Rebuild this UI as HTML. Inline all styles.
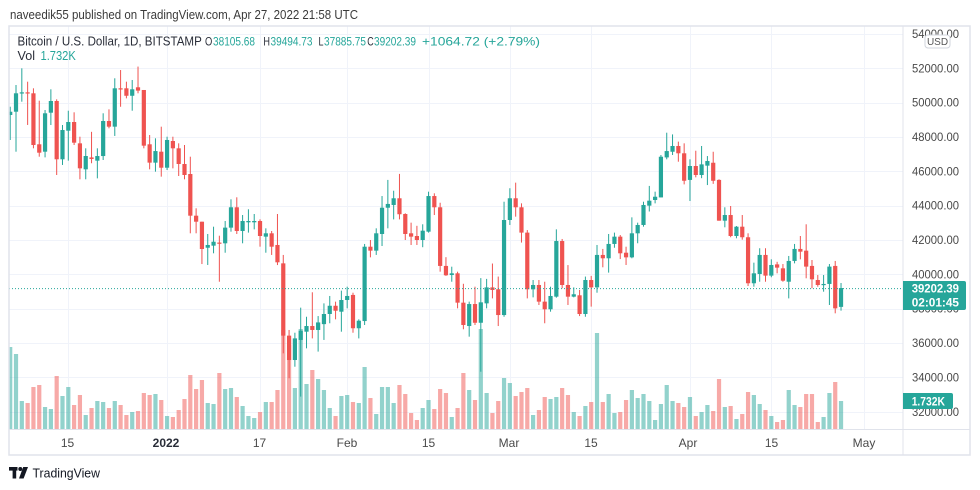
<!DOCTYPE html>
<html><head><meta charset="utf-8">
<style>
html,body{margin:0;padding:0;background:#fff;width:980px;height:490px;overflow:hidden;}
svg{display:block;font-family:"Liberation Sans",Arial,sans-serif;}
</style></head><body>
<svg id="c" width="980" height="490" viewBox="0 0 980 490" xmlns="http://www.w3.org/2000/svg">
<defs><clipPath id="plot"><rect x="9" y="26" width="894" height="403"/></clipPath></defs>
<rect width="980" height="490" fill="#fff"/>
<text x="10" y="19" font-size="13" fill="#3a3a3a" textLength="348" lengthAdjust="spacingAndGlyphs">naveedik55 published on TradingView.com, Apr 27, 2022 21:58 UTC</text>

<g id="grid" stroke="#f0f3fa" stroke-width="1" shape-rendering="crispEdges"></g>
<g clip-path="url(#plot)">
  <g id="vol"></g>
  <g id="cnd"></g>
</g>
<line x1="9" y1="288.6" x2="903" y2="288.6" stroke="#26a69a" stroke-width="1" stroke-dasharray="1,2"/>

<!-- legend -->
<g font-size="12.5">
<text x="17.5" y="45.7" fill="#2a2e39" textLength="184.3" lengthAdjust="spacingAndGlyphs">Bitcoin / U.S. Dollar, 1D, BITSTAMP</text>
</g>
<g font-size="12">
<text x="205" y="45.7" fill="#2a2e39" textLength="7.3" lengthAdjust="spacingAndGlyphs">O</text>
<text x="213" y="45.7" fill="#26a69a" textLength="42" lengthAdjust="spacingAndGlyphs">38105.68</text>
<text x="263.4" y="45.7" fill="#2a2e39" textLength="6.6" lengthAdjust="spacingAndGlyphs">H</text>
<text x="270.5" y="45.7" fill="#26a69a" textLength="42" lengthAdjust="spacingAndGlyphs">39494.73</text>
<text x="318.5" y="45.7" fill="#2a2e39" textLength="5" lengthAdjust="spacingAndGlyphs">L</text>
<text x="324" y="45.7" fill="#26a69a" textLength="42" lengthAdjust="spacingAndGlyphs">37885.75</text>
<text x="367.3" y="45.7" fill="#2a2e39" textLength="6.4" lengthAdjust="spacingAndGlyphs">C</text>
<text x="374" y="45.7" fill="#26a69a" textLength="42" lengthAdjust="spacingAndGlyphs">39202.39</text>
<text x="422" y="45.7" fill="#26a69a" textLength="118" lengthAdjust="spacingAndGlyphs">+1064.72 (+2.79%)</text>
</g>
<g font-size="12.5">
<text x="17.5" y="60.2" fill="#2a2e39" textLength="17.5" lengthAdjust="spacingAndGlyphs">Vol</text>
<text x="40.5" y="60.2" fill="#26a69a" textLength="35.3" lengthAdjust="spacingAndGlyphs">1.732K</text>
</g>

<!-- axes panel -->
<rect x="903.5" y="26" width="66" height="403" fill="#fff"/>
<line x1="903" y1="26" x2="903" y2="455" stroke="#e0e3eb" stroke-width="1" shape-rendering="crispEdges"/>
<line x1="9" y1="429.5" x2="970" y2="429.5" stroke="#e0e3eb" stroke-width="1" shape-rendering="crispEdges"/>

<g font-size="12" fill="#4a4a4a">
<text x="912" y="38" textLength="47" lengthAdjust="spacingAndGlyphs">54000.00</text>
<text x="912" y="72.3" textLength="47" lengthAdjust="spacingAndGlyphs">52000.00</text>
<text x="912" y="106.6" textLength="47" lengthAdjust="spacingAndGlyphs">50000.00</text>
<text x="912" y="141" textLength="47" lengthAdjust="spacingAndGlyphs">48000.00</text>
<text x="912" y="175.4" textLength="47" lengthAdjust="spacingAndGlyphs">46000.00</text>
<text x="912" y="209.7" textLength="47" lengthAdjust="spacingAndGlyphs">44000.00</text>
<text x="912" y="244" textLength="47" lengthAdjust="spacingAndGlyphs">42000.00</text>
<text x="912" y="278.4" textLength="47" lengthAdjust="spacingAndGlyphs">40000.00</text>
<text x="912" y="312.7" textLength="47" lengthAdjust="spacingAndGlyphs">38000.00</text>
<text x="912" y="347.1" textLength="47" lengthAdjust="spacingAndGlyphs">36000.00</text>
<text x="912" y="381.4" textLength="47" lengthAdjust="spacingAndGlyphs">34000.00</text>
<text x="912" y="415.8" textLength="47" lengthAdjust="spacingAndGlyphs">32000.00</text>
</g>

<!-- USD box -->
<rect x="925" y="35" width="25" height="13" rx="3" fill="#fff" stroke="#d1d4dc" stroke-width="1"/>
<text x="937.5" y="45" font-size="10" fill="#555" text-anchor="middle">USD</text>

<!-- price tag -->
<path d="M903 281 H964 Q966 281 966 283 V308 Q966 310 964 310 H903 Z" fill="#26a69a"/>
<text x="911.7" y="292.3" font-size="12" font-weight="bold" fill="#fff" textLength="47.3" lengthAdjust="spacingAndGlyphs">39202.39</text>
<text x="911.7" y="306.5" font-size="12" font-weight="bold" fill="#fff" textLength="47.3" lengthAdjust="spacingAndGlyphs">02:01:45</text>
<!-- volume tag -->
<path d="M903 393 H951 Q953 393 953 395 V407 Q953 409 951 409 H903 Z" fill="#26a69a"/>
<text x="911.7" y="405.3" font-size="12" font-weight="bold" fill="#fff" textLength="33.3" lengthAdjust="spacingAndGlyphs">1.732K</text>

<!-- time axis -->
<g font-size="12" fill="#4a4a4a" text-anchor="middle">
<text x="67.5" y="447">15</text>
<text x="166" y="447" font-weight="bold" fill="#2a2e39">2022</text>
<text x="259.5" y="447">17</text>
<text x="347" y="447">Feb</text>
<text x="428.5" y="447">15</text>
<text x="509" y="447">Mar</text>
<text x="591" y="447">15</text>
<text x="688" y="447">Apr</text>
<text x="771.5" y="447">15</text>
<text x="864" y="447">May</text>
</g>

<!-- frame -->
<rect x="9" y="26" width="961" height="429" fill="none" stroke="#e0e3eb" stroke-width="1.5"/>

<!-- footer -->
<g fill="#131722">
<rect x="9" y="467" width="8.5" height="3.6"/>
<rect x="12.6" y="467" width="3.6" height="11.5"/>
<circle cx="20.3" cy="469" r="2"/>
<polygon points="23.2,467 28,467 23.6,478.5 19,478.5"/>
</g>
<text x="32.5" y="477.5" font-size="12.5" fill="#131722" textLength="67.5" lengthAdjust="spacingAndGlyphs">TradingView</text>

<script>
(function(){
var D=[
[49280,49764,47824,49470],[49472,51027,47143,50544],[50540,52000,50055,50600],[50600,51220,48700,50540],[50544,50835,47340,47533],[47574,50113,46852,47085],[47143,49571,46813,49379],[49414,50777,48697,50096],[50096,50194,45786,46700],[46700,48697,46370,48406],[48366,49530,46620,48872],[48872,49437,47533,47668],[47630,48016,45535,46174],[46116,47340,45535,46892],[46810,48300,46470,46720],[46620,47340,45590,46890],[46890,49380,46660,48930],[48930,49610,48505,48600],[48600,51418,48060,50835],[50835,51900,49760,50800],[50835,51220,50250,50400],[50400,51320,49530,50777],[50894,52100,50544,50700],[50737,50737,47340,47494],[47574,48115,46116,46505],[46505,47923,45980,47180],[47143,48600,45690,46210],
[46210,48016,46077,47825],[47766,48016,46174,47340],[47340,47630,45727,46426],[46426,47533,45535,45786],[45844,46852,42390,43416],[43416,43846,42390,43066],[43066,43066,40600,41476],[41550,42350,40545,41710],[41670,42775,41225,41900],[41850,42250,39570,41800],[41808,43106,41260,42720],[42720,44370,42485,43905],[43905,44487,42350,42525],[42525,43455,41808,43106],[43030,43790,42430,43106],[43030,43514,42620,43106],[43106,43203,41610,42233],[42195,42680,41260,42390],[42390,42525,41130,41610],[41710,43514,40540,40700],[40640,41130,35400,36430],[36430,36760,33950,35010],[35010,36600,34620,36270],[36180,38060,32880,36715],[36660,37530,35690,36990],[36990,38955,36270,36760],[36760,37570,35500,37200],[37100,38310,36180,37690],[37690,38740,37150,38170],[38170,38410,37380,37880],[37825,39050,36660,38505],
[38505,39280,38020,38740],[38800,38930,36600,36860],[36860,37380,36270,37300],[37280,41770,37050,41610],[41610,42000,40990,41380],[41380,42680,41130,42390],[42350,44560,41650,43880],[43880,45500,42680,44100],[44040,44870,43200,44430],[44430,45850,43200,43500],[43514,43555,42000,42350],[42390,43010,41710,42195],[42233,42826,41710,42000],[42000,42915,41580,42543],[42485,44815,42430,44560],[44560,44720,43455,43905],[43905,44170,40155,40490],[40490,41000,39910,39945],[39960,40445,39570,40060],[40060,40155,38020,38350],[38350,39450,36800,37050],[36990,38410,36370,38270],[38270,39280,37050,37180],[37180,39780,34330,38370],[38310,39735,38020,39240],[39240,40630,38600,39090],[39130,39870,36990,37630],[37630,44230,37530,43165],
[43165,45015,42875,44430],[44430,45340,43360,43905],[43905,44135,41850,42430],[42430,42580,38600,39130],[39130,39670,38660,39380],[39380,39670,38215,38410],[38410,39570,37150,37965],[37965,39280,37825,38740],[38700,42620,38640,41940],[41940,42060,39190,39380],[39380,40540,38215,38700],[38700,39240,38660,38840],[38780,39090,37570,37690],[37690,39870,37530,39670],[39670,39910,38120,39240],[39240,41710,38930,41130],[41130,41480,40410,40935],[40935,42350,40100,41770],[41770,42430,41550,42195],[42195,42290,40890,41225],[41260,41610,40545,40990],[40990,43320,40935,42390],[42390,43010,41810,42875],[42875,44230,42775,44040],[44000,45150,43660,44290],[44330,44815,44135,44520],[44480,46950,44480,46850],[46810,48250,46700,47180],[47140,48150,46950,47475],[47475,47730,46560,47050],[47050,47630,45240,45450],
[45500,46700,44270,46310],[46310,47200,45650,45786],[45786,47475,45600,46405],[46330,46890,45200,46600],[46500,47140,45270,45450],[45500,45535,43125,43125],[43125,43905,42740,43455],[43455,43980,42160,42233],[42233,42815,42100,42775],[42775,43455,42020,42160],[42160,42390,39320,39480],[39480,40680,39280,40060],[40020,41520,39570,41130],[41130,41520,39570,39925],[39925,40875,39830,40545],[40580,40730,40060,40390],[40350,40600,39570,39630],[39570,41070,38600,40780],[40780,41770,40640,41480],[41480,42233,40875,41320],[41380,42915,39770,40450],[40490,40835,39190,39710],[39670,39960,39280,39380],[39380,39960,38990,39440],[39440,40600,38215,40450],[40490,40780,37730,38020],[38105,39495,37886,39202]
];
var V=[82,75,28,26,42,44,22,20,53,33,42,24,34,14,21,28,27,21,28,24,14,17,18,36,34,35,29,
13,12,19,30,54,40,49,26,25,56,40,41,32,23,13,11,17,27,27,39,99,84,41,100,45,59,50,39,21,13,33,
34,27,26,62,31,15,42,42,26,44,35,16,9,21,29,20,40,36,12,21,56,39,29,100,36,16,28,51,
46,33,37,41,14,19,32,30,32,41,34,17,13,23,27,96,27,35,16,17,29,39,31,35,28,9,25,44,28,26,22,
32,13,17,24,18,50,22,23,10,15,37,34,25,19,13,7,9,39,24,22,35,35,7,12,36,47,28];
var ns="http://www.w3.org/2000/svg";
function py(p){return 68.3+(52000-p)*0.01717;}
function el(t,a,parent){var e=document.createElementNS(ns,t);for(var k in a)e.setAttribute(k,a[k]);parent.appendChild(e);return e;}
var grid=document.getElementById('grid');
for(var p=54000;p>=32000;p-=2000){var y=Math.round(py(p))+0.5;el('line',{x1:9,y1:y,x2:903,y2:y},grid);}
[68.3,167.1,260.1,347.2,428.5,509.9,591.2,690,771.4,864.4].forEach(function(x){x=Math.round(x)+0.5;el('line',{x1:x,y1:26,x2:x,y2:429},grid);});
var vg=document.getElementById('vol'),cg=document.getElementById('cnd');
D.forEach(function(d,i){
 var x=10.2+5.81*i, up=d[3]>=d[0];
 var col=up?'#26a69a':'#ef5350', vcol=up?'rgba(38,166,154,0.5)':'rgba(239,83,80,0.5)';
 var h=V[i]||0;
 el('rect',{x:(x-2.1).toFixed(2),y:(429-h).toFixed(2),width:4.2,height:h,fill:vcol},vg);
 el('rect',{x:(x-0.5).toFixed(2),y:py(d[1]).toFixed(2),width:1,height:Math.max(1,py(d[2])-py(d[1])).toFixed(2),fill:col},cg);
 var t=py(Math.max(d[0],d[3])),b=py(Math.min(d[0],d[3]));
 el('rect',{x:(x-2.1).toFixed(2),y:t.toFixed(2),width:4.2,height:Math.max(1.2,b-t).toFixed(2),fill:col},cg);
});
})();
</script>
</svg>
</body></html>
